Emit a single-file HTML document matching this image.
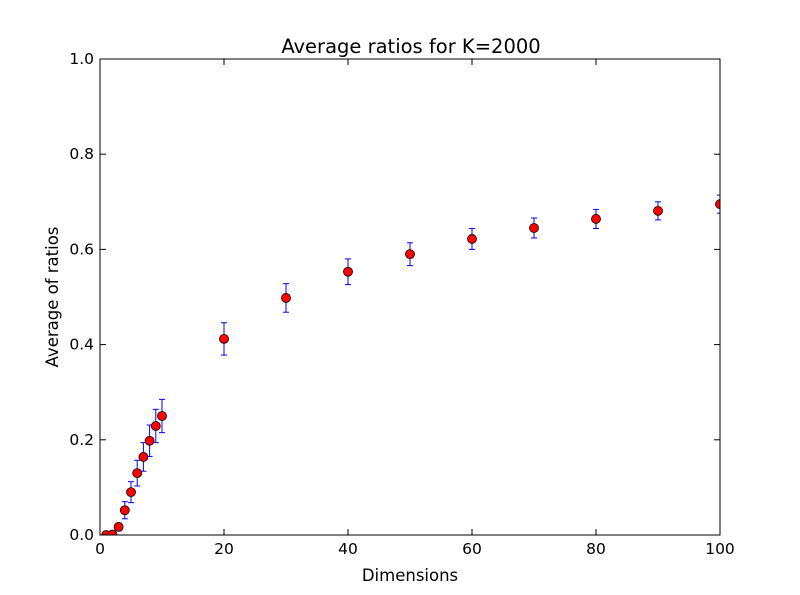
<!DOCTYPE html>
<html><head><meta charset="utf-8"><style>
body{margin:0;background:#fff;}
svg{display:block;font-family:"DejaVu Sans","Liberation Sans",sans-serif;}
</style></head><body>
<svg id="chart" width="800" height="595">
<defs><clipPath id="clip"><rect x="100" y="59" width="620" height="476"/></clipPath></defs>
<rect width="800" height="595" fill="#fff"/>
<text x="411" y="53" font-size="19.5" text-anchor="middle">Average ratios for K=2000</text>
<text x="410" y="581" font-size="16.5" text-anchor="middle">Dimensions</text>
<text transform="translate(58,297) rotate(-90)" font-size="16.5" text-anchor="middle">Average of ratios</text>
<g id="ticks"></g>
<g id="marks" clip-path="url(#clip)"></g>
<rect x="100" y="59" width="620" height="476" fill="none" stroke="#000" stroke-width="1"/>
</svg>
<script>
const dims=[1,2,3,4,5,6,7,8,9,10,20,30,40,50,60,70,80,90,100];
const means=[0.0,0.001,0.017,0.052,0.09,0.13,0.164,0.198,0.229,0.25,0.412,0.498,0.553,0.59,0.622,0.645,0.664,0.681,0.695];
const errs=[0.001,0.002,0.008,0.018,0.022,0.027,0.03,0.033,0.035,0.035,0.034,0.03,0.027,0.024,0.022,0.021,0.02,0.019,0.019];
const xTicks=[0,20,40,60,80,100];
const yTicks=[0,0.2,0.4,0.6,0.8,1.0];
const yLabels=["0.0","0.2","0.4","0.6","0.8","1.0"];
const NS="http://www.w3.org/2000/svg";
const X=v=>100+v/100*620, Y=v=>535-v*476;
const tg=document.getElementById('ticks'), mg=document.getElementById('marks');
function mk(tag,at,p){const e=document.createElementNS(NS,tag);for(const k in at)e.setAttribute(k,at[k]);p.appendChild(e);return e;}
xTicks.forEach(t=>{
 const l=mk('line',{x1:X(t),x2:X(t),y1:535,y2:529,stroke:'#000'},tg);
 
 
 const l2=mk('line',{x1:X(t),x2:X(t),y1:59,y2:65,stroke:'#000'},tg);
 
 
 const tx=mk('text',{x:X(t),y:554,'font-size':15.5,'text-anchor':'middle'},tg);tx.textContent=t;
 
 
});
yTicks.forEach((t,i)=>{
 const l=mk('line',{x1:100,x2:106,y1:Y(t),y2:Y(t),stroke:'#000'},tg);
 
 
 const l2=mk('line',{x1:714,x2:720,y1:Y(t),y2:Y(t),stroke:'#000'},tg);
 
 
 const tx=mk('text',{x:94,y:Y(t)+5,'font-size':15.5,'text-anchor':'end'},tg);tx.textContent=yLabels[i];
 
 
});
dims.forEach((d,i)=>{
 const x=X(d),yt=Y(means[i]+errs[i]),yb=Y(means[i]-errs[i]);
 const g=mk('g',{},mg);
 
 
 mk('line',{x1:x,x2:x,y1:yt,y2:yb,stroke:'#0000ff','stroke-width':1},g);
 mk('line',{x1:x-3,x2:x+3,y1:yt,y2:yt,stroke:'#0000ff','stroke-width':1},g);
 mk('line',{x1:x-3,x2:x+3,y1:yb,y2:yb,stroke:'#0000ff','stroke-width':1},g);
});
dims.forEach((d,i)=>{
 const c=mk('circle',{cx:X(d),cy:Y(means[i]),r:4.5,fill:'#ff0000',stroke:'#000','stroke-width':0.8},mg);
 
 
});
</script>
</body></html>
